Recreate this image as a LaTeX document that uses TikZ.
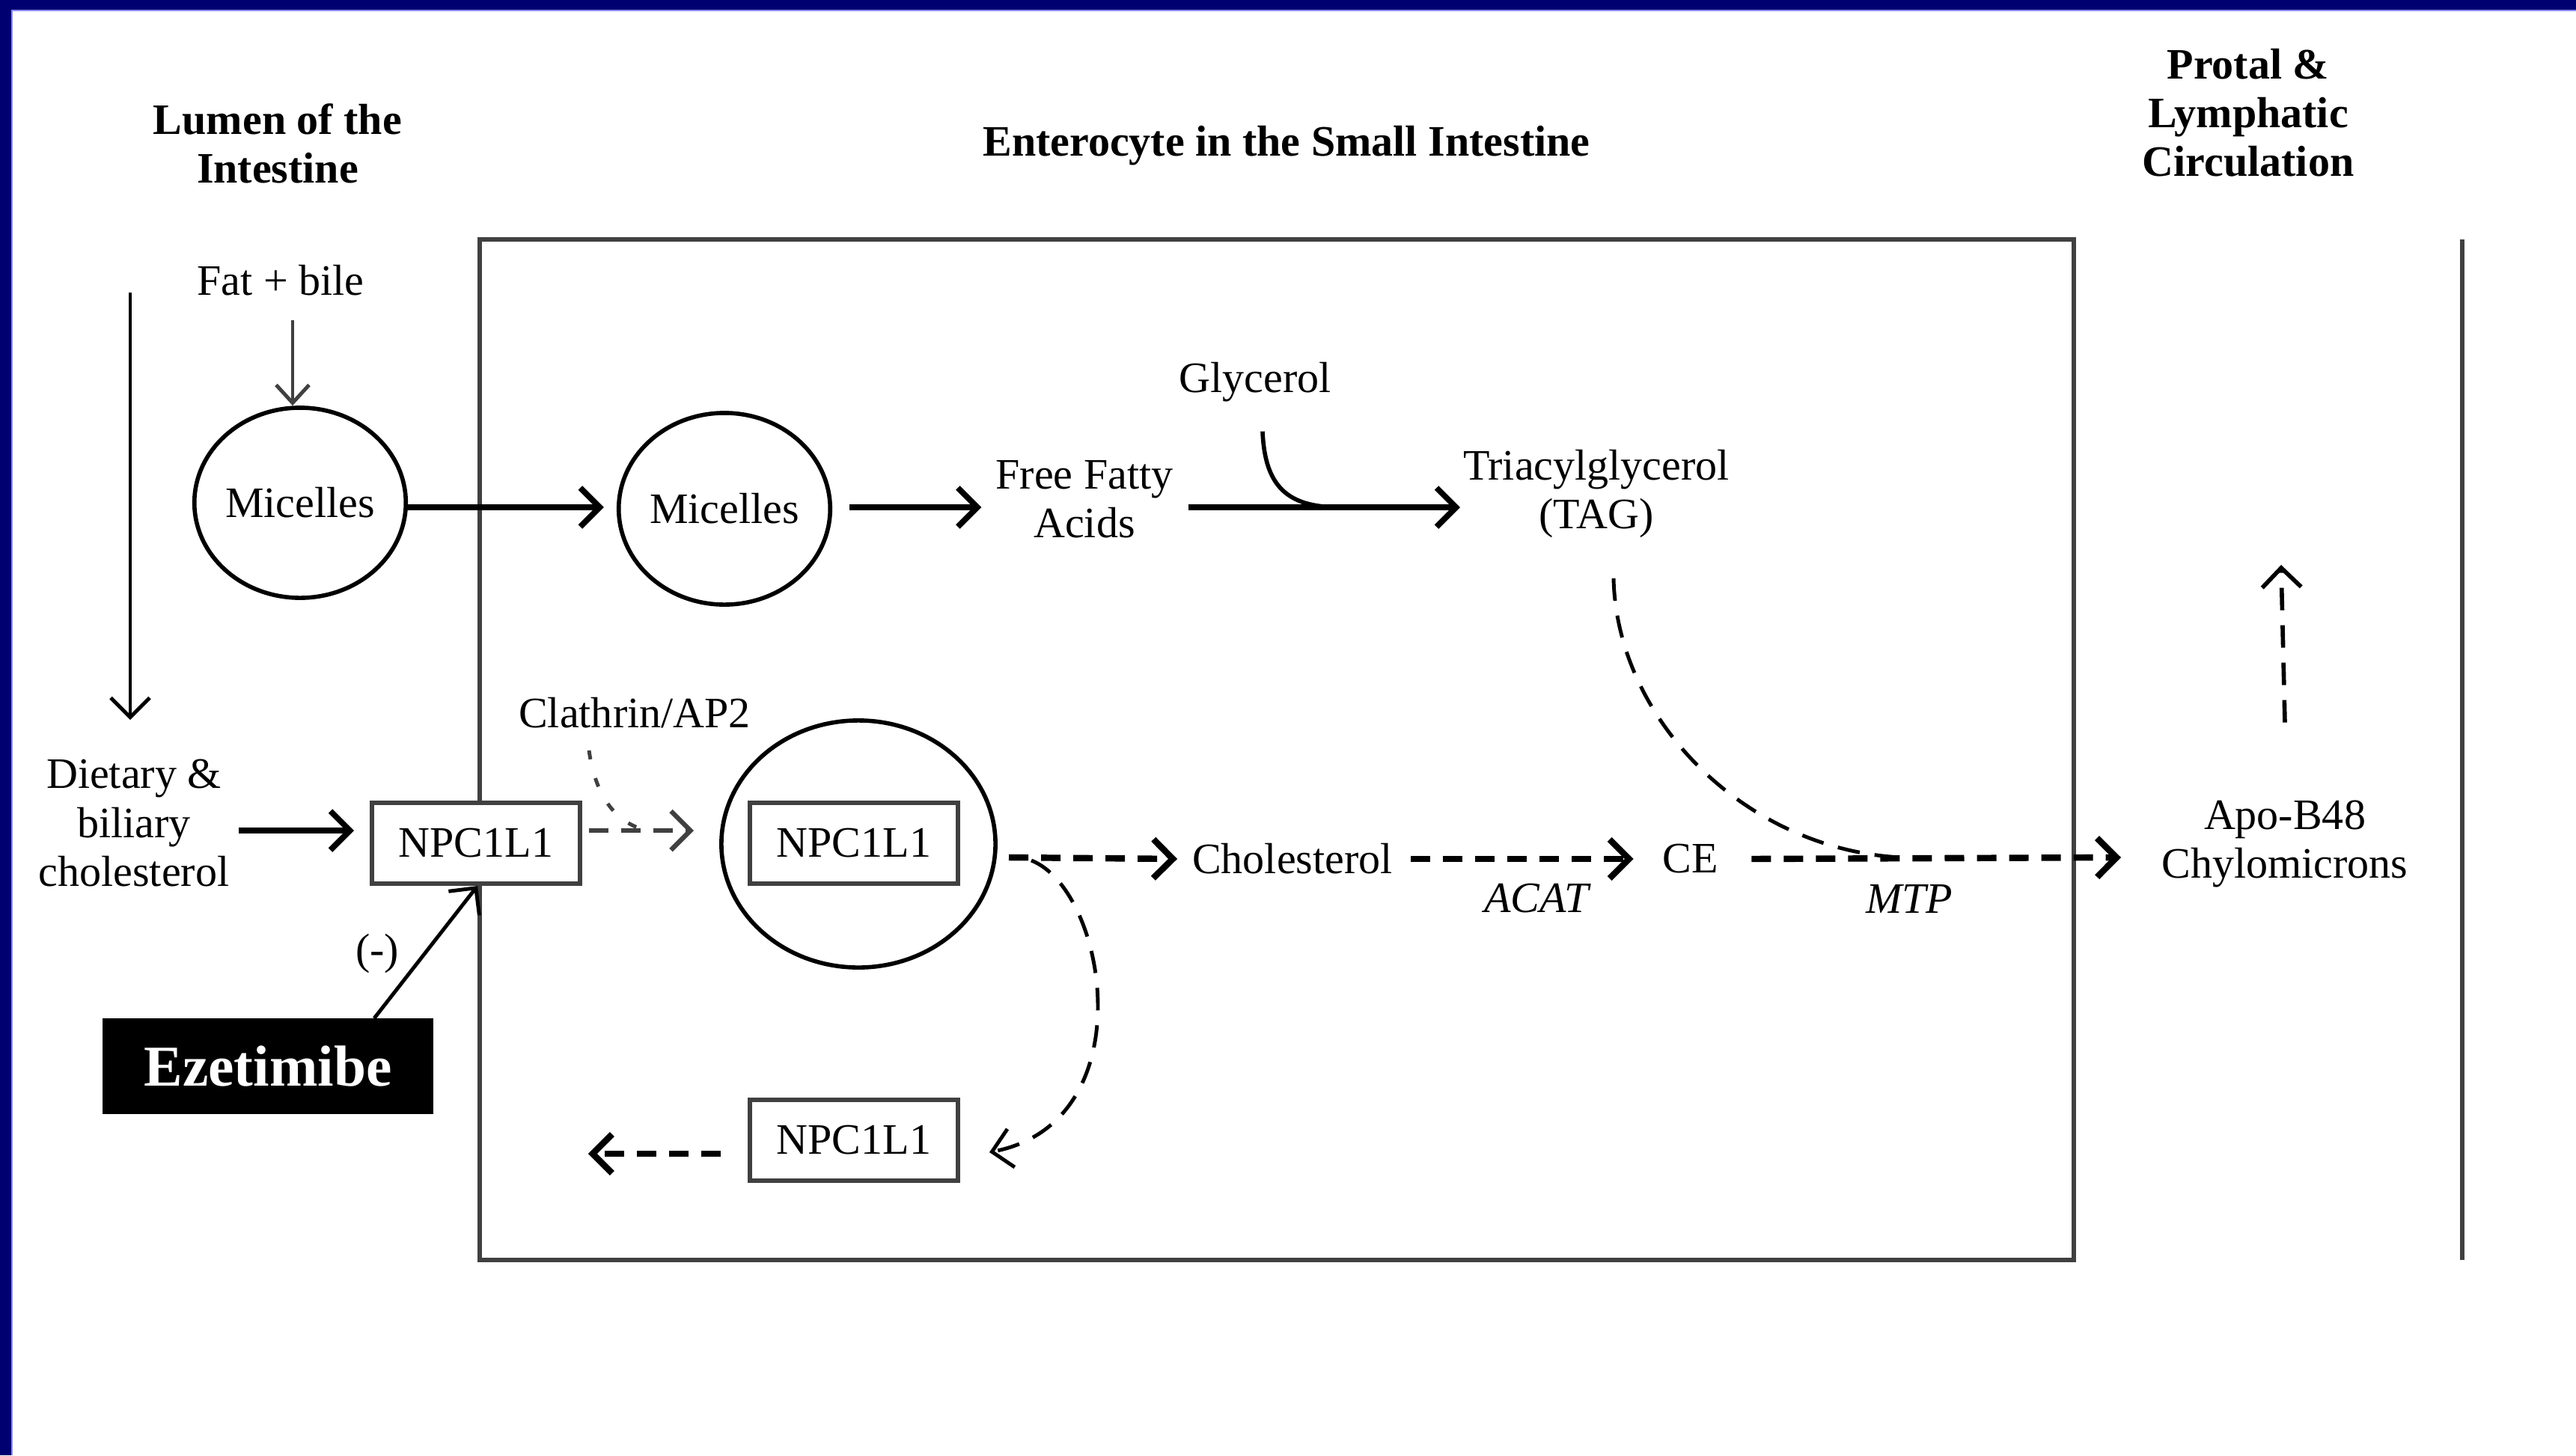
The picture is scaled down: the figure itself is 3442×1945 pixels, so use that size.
\documentclass[tikz,border=0pt]{standalone}
\usepackage{fontspec}
\setmainfont{Liberation Serif}
\usetikzlibrary{arrows.meta, shapes.geometric, calc}
\definecolor{navy}{HTML}{000070}
\definecolor{edge}{HTML}{404040}

\begin{document}
\begin{tikzpicture}[x=0.01cm, y=-0.01cm,
          >={Straight Barb[length=0.26cm, width=0.52cm]},
          font=\fontsize{16.5}{18.5}\selectfont,
          every node/.style={align=center, inner sep=1pt},
          heading/.style={font=\fontsize{16.5}{18.5}\selectfont\bfseries},
          micelle/.style={draw, ellipse, line width=1.6pt, inner sep=0pt},
          protein/.style={draw=edge, fill=white, rectangle, line width=1.7pt,
                          minimum width=2.78cm, minimum height=1.08cm},
          wall/.style={draw=edge, line width=1.7pt},
          flow/.style={->, line width=2.2pt},
          slim/.style={->, line width=1.4pt},
          dflow/.style={->, line width=2.4pt, dash pattern=on 0.26cm off 0.17cm},
          dcurve/.style={line width=1.4pt, dash pattern=on 0.3cm off 0.2cm}
        ]
        \useasboundingbox (0,0) rectangle (3442,1945);
        % slide frame
        \fill[navy] (0,0) rectangle (3442,13);
        \fill[navy] (0,0) rectangle (15,1945);
        \draw[blue!45, line width=0.6pt] (15,14) -- (3442,14);
        \draw[blue!45, line width=0.6pt] (16,14) -- (16,1945);

        % compartments
        \draw[wall] (641,320) rectangle (2771,1684);
        \draw[wall] (3290,320) -- (3290,1684);

        \node[heading] (lumen)  at (371,192)  {Lumen of the\\Intestine};
        \node[heading] (entero) at (1719,195) {Enterocyte in the Small Intestine};
        \node[heading] (portal) at (3004,151) {Protal \&\\Lymphatic\\Circulation};

        % fat branch
        \node (fat) at (375,375) {Fat + bile};
        \node[micelle, minimum width=2.72cm, minimum height=2.54cm] (mic1) at (401,672) {Micelles};
        \node[micelle, minimum width=2.7cm, minimum height=2.56cm]  (mic2) at (968,680) {Micelles};
        \node (ffa)  at (1449,667) {Free Fatty\\Acids};
        \node (glyc) at (1677,511) {Glycerol};
        \node (tag)  at (2133,660) {Triacylglycerol\\(TAG)};
        \coordinate (fattop) at (391,428);
        \coordinate (join)   at (1790,678);

        \draw[slim, edge, >={Straight Barb[length=0.24cm, width=0.44cm]}] (fattop) -- (fattop |- mic1.north);
        \draw[flow] ([xshift=-0.02cm]mic1.east |- join) -- ([xshift=-0.17cm]mic2.west |- join);
        \draw[flow] ([xshift=0.23cm]mic2.east |- join) -- ([xshift=-0.15cm]ffa.west |- join);
        \draw[flow] ([xshift=0.16cm]ffa.east |- join) -- (tag.west |- join);
        \draw[line width=1.6pt] ([shift={(10,35)}]glyc.south) .. controls (1690,650) and (1720,678) .. (join);

        % cholesterol branch
        \node (diet) at (179,1100) {Dietary \&\\biliary\\cholesterol};
        \node[protein] (npc1) at (636,1127) {NPC1L1};
        \node (clath) at (848,953) {Clathrin/AP2};
        \node[micelle, minimum width=3.66cm, minimum height=3.3cm] (vesicle) at (1147,1128) {};
        \node[protein] (npc2) at (1141,1127) {NPC1L1};
        \node[protein] (npc3) at (1141,1524) {NPC1L1};
        \node (chol)  at (1727,1148) {Cholesterol};
        \node (ce)    at (2259,1148) {CE};
        \node[font=\fontsize{16.5}{18.5}\selectfont\itshape] (acat) at (2053,1201) {ACAT};
        \node[font=\fontsize{16.5}{18.5}\selectfont\itshape] (mtp)  at (2551,1201) {MTP};
        \node (chylo) at (3053,1128) {Apo-B48\\Chylomicrons};
        \node[fill=black, text=white, minimum width=4.41cm, minimum height=1.27cm,
              font=\fontsize{22}{24}\selectfont\bfseries] (eze) at (358,1425) {Ezetimibe};
        \node (minus) at (504,1275) {(-)};
        \coordinate (lumtop) at (174,391);
        \coordinate (out)    at (3048,755);

        \draw[slim] (lumtop) -- (174,962);
        \draw[flow] ([xshift=0.08cm]diet.east |- 0,1110) -- (473,1110);
        \draw[slim] (500,1361) -- (npc1.south -| 638,0);
        \draw[dflow, edge, line width=1.8pt] (787,1110) -- (927,1110);
        \draw[dcurve, edge, dash pattern=on 0.12cm off 0.26cm] (787,1003) .. controls (795,1060) and (820,1100) .. (865,1110);
        \draw[dflow] (1348,1146) -- ([xshift=-0.16cm]chol.west);
        \draw[dflow] ([xshift=0.2cm]chol.east) -- ([xshift=-0.35cm]ce.west);
        \draw[dflow] ([xshift=0.4cm]ce.east) -- (2834,1146);
        \draw[dcurve, ->] (1378,1150) .. controls (1480,1190) and (1530,1500) .. (1322,1540);
        \draw[dcurve] (2156,773) .. controls (2160,960) and (2330,1135) .. (2540,1146);
        \draw[dflow] ($(npc3.west)+(-36,18)$) -- ($(npc3.west)+(-213,18)$);
        \draw[dcurve, ->, line width=1.6pt] ([yshift=1.0cm]chylo.north) -- (out);
      \end{tikzpicture}
\end{document}
